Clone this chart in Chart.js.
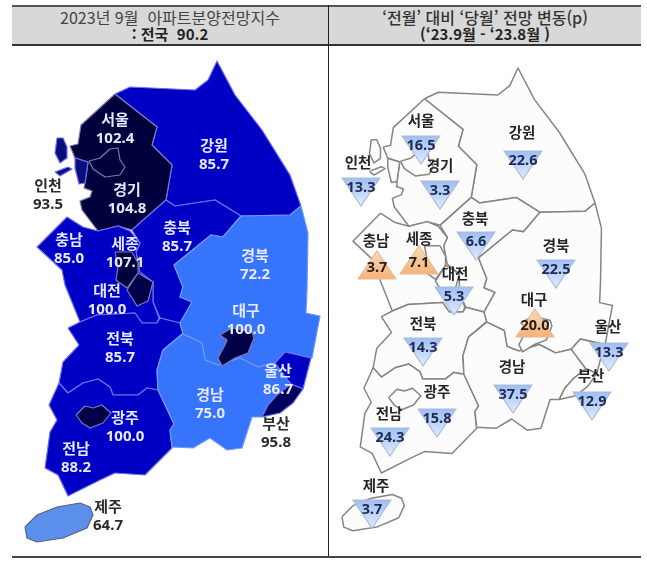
<!DOCTYPE html>
<html lang="ko">
<head>
<meta charset="utf-8">
<script src="https://cdn.jsdelivr.net/npm/chart.js@4"></script>
<style>
    html, body { margin: 0; padding: 0; background: #fff; }
    body { width: 647px; height: 569px; position: relative; overflow: hidden; font-family: "Noto Sans CJK KR", "Noto Sans", sans-serif; }
    #myMapChart { position: absolute; left: 0; top: 0; filter: blur(0.4px); }
    .head { position: absolute; top: 5px; height: 41px; background: #d8d8d8; border-top: 2px solid #555; border-bottom: 2px solid #333; box-sizing: border-box; text-align: center; font-size: 16px; line-height: 16px; color: #444; padding-top: 2px; }
    .head small { font-size: 15px; font-weight: 700; color: #222; }
    #headLeft { left: 12px; width: 316px; }
    #headRight { left: 329px; width: 312px; font-weight: 500; color: #333; }
    #divider { position: absolute; left: 328px; top: 5px; width: 1px; height: 552px; background: #222; }
    #bottomRule { position: absolute; left: 12px; top: 556px; width: 629px; height: 2px; background: #444; }
</style>
</head>
<body>
<canvas id="myMapChart" width="647" height="569"></canvas>
<div class="head" id="headLeft">2023년 9월&nbsp; 아파트분양전망지수<br><small>: 전국&nbsp; 90.2</small></div>
<div class="head" id="headRight">‘전월’ 대비 ‘당월’ 전망 변동(p)<br><small>(‘23.9월 - ‘23.8월 )</small></div>
<div id="divider"></div>
<div id="bottomRule"></div>
<script>
// Values
const regionNames = ['서울', '경기', '인천', '강원', '충북', '충남', '세종', '대전', '전북', '전남', '광주', '경북', '대구', '울산', '부산', '경남', '제주'];
const indexValues = [102.4, 104.8, 93.5, 85.7, 85.7, 85.0, 107.1, 100.0, 85.7, 88.2, 100.0, 72.2, 100.0, 86.7, 95.8, 75.0, 64.7];
const changeValues = [16.5, 3.3, 13.3, 22.6, 6.6, 3.7, 7.1, 5.3, 14.3, 24.3, 15.8, 22.5, 20.0, 13.3, 12.9, 37.5, 3.7];
const changeUp = [false, false, false, false, false, true, true, false, false, false, false, false, true, false, false, false, false];

const seoulShape = [[89,161],[100,158],[110,149],[118,148],[120,160],[125,167],[120,175],[105,177],[93,169]];
const gyeonggiShape = [[115,94],[157,127],[152,145],[172,165],[166,200],[132,230],[118,226],[98,231],[82,210],[80,201],[90,197],[92,191],[84,188],[85,183],[88,162],[75,158],[70,146],[78,144],[81,125]];
const incheonShape = [[75,158],[88,162],[85,183],[79,184],[75,168]];
const incheonIsleA = [[57,138],[63,138],[67,147],[67,158],[60,163],[55,153]];
const incheonIsleB = [[55,172],[68,167],[72,169],[60,176]];
const gangwonShape = [[115,94],[130,87],[195,90],[208,80],[217,61],[235,95],[262,130],[290,175],[301,206],[290,215],[241,216],[215,200],[175,206],[166,200],[172,165],[152,145],[157,127]];
const chungbukShape = [[132,230],[166,200],[175,206],[215,200],[241,216],[223,237],[211,235],[174,265],[183,287],[180,297],[192,302],[180,323],[160,318],[153,302],[153,282],[138,273],[138,263],[136,252],[140,243]];
const chungnamShape = [[67,217],[83,227],[98,231],[118,226],[130,231],[140,243],[136,252],[138,263],[140,272],[153,282],[153,302],[159,318],[157,323],[142,323],[135,313],[97,315],[80,322],[65,285],[62,270],[37,247]];
const sejongShape = [[115,252],[132,252],[138,263],[138,273],[127,288],[116,280],[118,267]];
const daejeonShape = [[138,273],[153,282],[148,301],[137,306],[127,290]];
const jeonbukShape = [[68,328],[80,322],[97,315],[135,313],[142,323],[157,323],[160,318],[180,323],[183,333],[163,350],[157,370],[158,390],[147,388],[138,395],[113,395],[110,387],[98,379],[83,383],[68,393],[59,383],[63,362],[79,345]];
const jeonnamShape = [[59,383],[68,393],[83,383],[98,379],[110,387],[113,395],[138,395],[147,388],[158,390],[174,424],[170,430],[172,448],[145,475],[115,473],[100,480],[68,496],[58,475],[45,468],[50,432],[57,420],[49,405]];
const gwangjuShape = [[76,415],[85,406],[93,408],[102,405],[111,413],[103,423],[90,428],[82,423]];
const gyeongbukShape = [[301,206],[308,233],[307,290],[306,313],[320,316],[312,358],[285,352],[275,363],[258,367],[240,358],[218,365],[205,360],[202,343],[183,334],[180,323],[192,302],[180,297],[183,287],[174,265],[211,235],[223,237],[241,216],[290,215]];
const daeguShape = [[220,335],[232,328],[252,332],[254,338],[248,353],[235,358],[222,366],[218,358],[225,345],[227,340]];
const ulsanShape = [[275,363],[285,352],[311,358],[303,389],[291,384]];
const busanShape = [[303,389],[293,403],[280,413],[262,417],[268,405],[277,395],[291,384]];
const gyeongnamShape = [[183,334],[202,343],[205,360],[218,365],[240,358],[258,367],[275,363],[291,384],[277,395],[268,405],[262,417],[252,417],[242,448],[227,450],[210,438],[193,448],[172,447],[170,430],[174,424],[158,390],[157,370],[163,350]];
const jejuShape = [[25,527],[37,515],[57,507],[80,503],[90,507],[93,515],[87,528],[63,538],[37,542],[27,538]];

// Which outlines are painted, bottom to top, with the region each belongs to
const mapParts = [
    [gangwonShape, '강원'], [gyeonggiShape, '경기'], [chungbukShape, '충북'], [chungnamShape, '충남'],
    [jeonbukShape, '전북'], [jeonnamShape, '전남'], [gyeongbukShape, '경북'], [gyeongnamShape, '경남'],
    [ulsanShape, '울산'], [busanShape, '부산'], [incheonShape, '인천'], [incheonIsleA, '인천'], [incheonIsleB, '인천'],
    [seoulShape, '서울'], [sejongShape, '세종'], [daejeonShape, '대전'], [gwangjuShape, '광주'], [daeguShape, '대구'],
    [jejuShape, '제주']
];

// Label and marker spots, same order as regionNames
const leftNameX = [115, 127, 48, 214, 177, 69, 125, 107, 120, 76, 125, 255, 246, 278, 276, 210, 108];
const leftNameY = [119, 189, 185, 145, 227, 239, 243, 290, 338, 448, 417, 255, 310, 370, 423, 394, 506];
const rightNameX = [421, 440, 358, 522, 475, 376, 419, 455, 423, 389, 437, 556, 534, 608, 591, 512, 376];
const rightNameY = [120, 165, 162, 132, 218, 240, 238, 273, 323, 413, 391, 245, 299, 326, 375, 366, 485];
const triangleX = [421, 440, 361, 523, 476, 377, 419, 454, 423, 390, 437, 556, 535, 609, 592, 513, 372];
const triangleY = [150, 195, 192, 165, 246, 265, 260, 301, 352, 442, 423, 274, 323, 357, 406, 399, 514];

function indexColor(v) {
    if (v > 100.5) return '#00003c';
    if (v >= 100) return '#000048';
    if (v >= 95) return '#00005e';
    if (v >= 90) return '#07107a';
    if (v >= 80) return '#0000c4';
    if (v >= 70) return '#3574fb';
    return '#5c8fec';
}

function toRightMap(p, name) {
    return {x: 518 + (p[0] - 217) * 0.917, y: 68 + (p[1] - 61) * 0.931 + (name === '제주' ? 15 : 0)};
}

function closeShape(points) {
    return points.concat([points[0]]);
}

function makeTriangle(up) {
    const c = document.createElement('canvas');
    c.width = 40;
    c.height = 30;
    const g = c.getContext('2d');
    const grad = g.createLinearGradient(0, 0, 0, 30);
    if (up) {
        grad.addColorStop(0, '#fbdcbc');
        grad.addColorStop(1, '#f4b07a');
    } else {
        grad.addColorStop(0, '#9dbcf2');
        grad.addColorStop(1, '#e4eeff');
    }
    g.beginPath();
    if (up) {
        g.moveTo(20, 1); g.lineTo(39, 29); g.lineTo(1, 29);
    } else {
        g.moveTo(1, 1); g.lineTo(39, 1); g.lineTo(20, 29);
    }
    g.closePath();
    g.fillStyle = grad;
    g.fill();
    g.strokeStyle = up ? '#e7b98f' : '#a9bcd8';
    g.lineWidth = 1.2;
    g.stroke();
    return c;
}

const upTriangle = makeTriangle(true);
const downTriangle = makeTriangle(false);

// painted bottom to top, reversed below because Chart.js draws dataset 0 last
const mapSets = [];
mapParts.forEach(function (part) {
    const name = part[1];
    const value = indexValues[regionNames.indexOf(name)];
    mapSets.push({
        data: closeShape(part[0]).map(p => ({x: p[0], y: p[1]})),
        showLine: true,
        fill: 'shape',
        tension: 0,
        pointRadius: 0,
        backgroundColor: indexColor(value),
        borderColor: name === '제주' ? '#56627a' : (value >= 100 ? '#7c7cb4' : (value >= 80 ? '#6f6ff0' : '#6f9bf5')),
        borderWidth: 1.2,
        borderJoinStyle: 'round'
    });
});
mapParts.forEach(function (part) {
    mapSets.push({
        data: closeShape(part[0]).map(p => toRightMap(p, part[1])),
        showLine: true,
        fill: 'shape',
        tension: 0,
        pointRadius: 0,
        backgroundColor: '#fcfcfc',
        borderColor: '#858585',
        borderWidth: 1.5,
        borderJoinStyle: 'round'
    });
});
mapSets.push({
    data: changeValues.map((v, i) => ({x: triangleX[i], y: triangleY[i]})),
    showLine: false,
    pointStyle: changeUp.map(up => up ? upTriangle : downTriangle),
    pointRadius: 20
});

const regionLabels = {
    id: 'regionLabels',
    afterDatasetsDraw(chart) {
        const ctx = chart.ctx;
        const xs = chart.scales.x;
        const ys = chart.scales.y;
        const outside = ['인천', '부산', '제주'];
        ctx.save();
        ctx.textAlign = 'center';
        ctx.textBaseline = 'middle';
        regionNames.forEach(function (name, i) {
            const lx = xs.getPixelForValue(leftNameX[i]);
            const ly = ys.getPixelForValue(leftNameY[i]);
            ctx.fillStyle = outside.includes(name) ? '#2b2b2b' : '#e6e9ff';
            ctx.font = '700 15px "Noto Sans CJK KR", sans-serif';
            ctx.fillText(name, lx, ly);
            ctx.font = '700 15px "Noto Sans", sans-serif';
            ctx.fillText(indexValues[i].toFixed(1), lx, ly + 19.5);

            ctx.fillStyle = '#262626';
            ctx.font = '700 14.5px "Noto Sans CJK KR", sans-serif';
            ctx.fillText(name, xs.getPixelForValue(rightNameX[i]), ys.getPixelForValue(rightNameY[i]));
            ctx.fillStyle = changeUp[i] ? '#2a2015' : '#1c2a55';
            ctx.font = '700 14.5px "Noto Sans", sans-serif';
            ctx.fillText(changeValues[i].toFixed(1), xs.getPixelForValue(triangleX[i]), ys.getPixelForValue(triangleY[i]) + (changeUp[i] ? 3 : -4));
        });
        ctx.restore();
    }
};

new Chart(document.getElementById('myMapChart'), {
    type: 'scatter',
    data: {datasets: mapSets.reverse()},
    options: {
        responsive: false,
        animation: false,
        layout: {padding: 0, autoPadding: false},
        scales: {
            x: {type: 'linear', display: false, min: 0, max: 647},
            y: {type: 'linear', display: false, min: 0, max: 569, reverse: true}
        },
        plugins: {
            legend: {display: false},
            tooltip: {enabled: false}
        }
    },
    plugins: [regionLabels]
});
</script>
</body>
</html>
